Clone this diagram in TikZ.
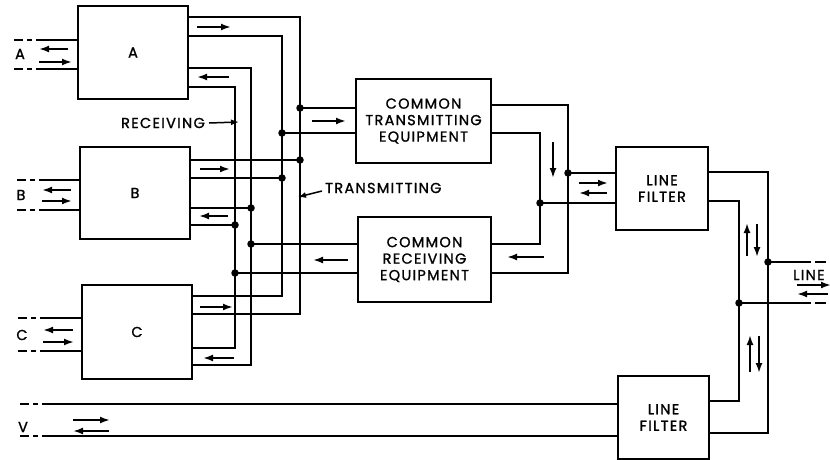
\documentclass[tikz,border=0pt]{standalone}
\usepackage{fontspec}
\setmainfont{Poppins}[LetterSpace=9,FakeBold=1.2]
\usetikzlibrary{arrows.meta,calc}
\begin{document}
\begin{tikzpicture}[x=1pt,y=-1pt,
  box/.style={draw,line width=1.8pt,rectangle,inner sep=0pt,align=center,font=\fontsize{14.5}{16.5}\selectfont},
  wire/.style={line width=2.5pt},
  dashpart/.style={line width=2.5pt,dash pattern=on 9pt off 4pt on 5pt off 4pt},
  rdash/.style={line width=2.5pt,dash pattern=on 11pt off 4pt},
  sig/.style={line width=2.1pt,-{Latex[length=10pt,width=7pt]}},
  jn/.style={circle,fill,inner sep=0pt,minimum size=7.5pt},
  lbl/.style={font=\fontsize{14.5}{15}\selectfont,inner sep=0pt}
]
\useasboundingbox (0,0) rectangle (830,460);

% boxes
\node[box,minimum width=110pt,minimum height=93pt] (A) at (133,52.5) {A};
\node[box,minimum width=110pt,minimum height=92pt] (B) at (135,193) {B};
\node[box,minimum width=110pt,minimum height=94pt] (C) at (137,332) {C};
\node[box,minimum width=135pt,minimum height=84pt] (CTE) at (423.5,121) {COMMON\\TRANSMITTING\\EQUIPMENT};
\node[box,minimum width=133pt,minimum height=85pt] (CRE) at (424.5,259.5) {COMMON\\RECEIVING\\EQUIPMENT};
\node[box,minimum width=92pt,minimum height=83pt] (LF1) at (662,188.5) {LINE\\FILTER};
\node[box,minimum width=91pt,minimum height=83pt] (LF2) at (663.5,417.5) {LINE\\FILTER};

% bus coordinates
\coordinate (tA1) at (300,17);   \coordinate (tC2) at (300,314);
\coordinate (tA2) at (282,36);   \coordinate (tC1) at (282,296);
\coordinate (rA1) at (251,68);   \coordinate (rC2) at (251,365);
\coordinate (rA2) at (235,87);   \coordinate (rC1) at (235,348);
\coordinate (tCT1) at (300,108); \coordinate (tCT2) at (282,133);
\coordinate (tB1) at (300,160);  \coordinate (tB2) at (282,178);
\coordinate (rB1) at (251,208);  \coordinate (rB2) at (235,225);
\coordinate (rCR1) at (251,244); \coordinate (rCR2) at (235,273);

% transmitting buses
\draw[wire] (A.east|-tA1) -- (tA1) -- (tC2) -- (C.east|-tC2);
\draw[wire] (A.east|-tA2) -- (tA2) -- (tC1) -- (C.east|-tC1);
% receiving buses
\draw[wire] (A.east|-rA1) -- (rA1) -- (rC2) -- (C.east|-rC2);
\draw[wire] (A.east|-rA2) -- (rA2) -- (rC1) -- (C.east|-rC1);
% B connections
\draw[wire] (B.east|-tB1) -- (tB1);
\draw[wire] (B.east|-tB2) -- (tB2);
\draw[wire] (B.east|-rB1) -- (rB1);
\draw[wire] (B.east|-rB2) -- (rB2);
% common equipment connections
\draw[wire] (tCT1) -- (CTE.west|-tCT1);
\draw[wire] (tCT2) -- (CTE.west|-tCT2);
\draw[wire] (rCR1) -- (CRE.west|-rCR1);
\draw[wire] (rCR2) -- (CRE.west|-rCR2);

% right side
\coordinate (c1t) at (568,105); \coordinate (c1b) at (568,273);
\coordinate (c2t) at (540,133); \coordinate (c2b) at (540,244);
\coordinate (cj1) at (568,173); \coordinate (cj2) at (540,203);
\draw[wire] (CTE.east|-c1t) -- (c1t) -- (c1b) -- (CRE.east|-c1b);
\draw[wire] (CTE.east|-c2t) -- (c2t) -- (c2b) -- (CRE.east|-c2b);
\draw[wire] (cj1) -- (LF1.west|-cj1);
\draw[wire] (cj2) -- (LF1.west|-cj2);

\coordinate (l1t) at (768,172); \coordinate (l1b) at (768,433);
\coordinate (l2t) at (739,201); \coordinate (l2b) at (739,401);
\coordinate (lj1) at (768,262); \coordinate (lj2) at (739,303);
\draw[wire] (LF1.east|-l1t) -- (l1t) -- (l1b) -- (LF2.east|-l1b);
\draw[wire] (LF1.east|-l2t) -- (l2t) -- (l2b) -- (LF2.east|-l2b);
\coordinate (le1) at (811,262); \coordinate (le1d) at (830,262);
\coordinate (le2) at (811,303); \coordinate (le2d) at (830,303);
\draw[wire] (lj1) -- (le1);
\draw[wire] (lj2) -- (le2);
\draw[rdash] ([xshift=4pt]le1) -- (le1d);
\draw[rdash] ([xshift=4pt]le2) -- (le2d);

% V lines
\coordinate (v1s) at (43,404); \coordinate (v1d) at (20,404);
\coordinate (v2s) at (47,436); \coordinate (v2d) at (20,436);
\draw[wire] (v1s) -- (LF2.west|-v1s);
\draw[wire] (v2s) -- (LF2.west|-v2s);
\draw[dashpart] (v1d) -- (v1s);
\draw[dashpart] (v2d) -- (v2s);

% left station lines
\foreach \n/\ya/\yb/\xd/\xs in {A/40/69/14/36, B/180/210/17/39, C/318/351/18/41}{
  \coordinate (\n d1) at (\xd,\ya); \coordinate (\n s1) at (\xs,\ya);
  \coordinate (\n d2) at (\xd,\yb); \coordinate (\n s2) at (\xs,\yb);
  \draw[dashpart] (\n d1) -- (\n s1);
  \draw[dashpart] (\n d2) -- (\n s2);
  \draw[wire] (\n s1) -- (\n.west|-\n s1);
  \draw[wire] (\n s2) -- (\n.west|-\n s2);
}

% junction dots
\foreach \p in {tCT1,tCT2,tB1,tB2,rB1,rB2,rCR1,rCR2,cj1,cj2,lj1,lj2}{
  \node[jn] (d\p) at (\p) {};
}

% labels
\node[lbl] (labA) at (20,54) {A};
\node[lbl] (labB) at (21,195) {B};
\node[lbl] (labC) at (22,335) {C};
\node[lbl] (labV) at (23,427) {V};
\node[lbl,anchor=west] (labL) at (793,275) {LINE};
\node[lbl] (labR) at (163,123) {RECEIVING};
\node[lbl,anchor=west] (labT) at (325,188) {TRANSMITTING};
\coordinate (rcvT) at (239,122);
\coordinate (trmT) at (298,197);
\draw[line width=1.5pt,-{Latex[length=8pt,width=6pt]}] (labR.east)+(4,0) -- (rcvT);
\draw[line width=1.5pt,-{Latex[length=8pt,width=6pt]}] ($(labT.west)+(-3,3)$) -- (trmT);

% signal arrows
\draw[sig] (68,49) -- (39,49);
\draw[sig] (39,62) -- (72,62);
\draw[sig] (71,190) -- (42,190);
\draw[sig] (42,201) -- (72,201);
\draw[sig] (73,330) -- (43,330);
\draw[sig] (43,342) -- (74,342);
\draw[sig] (73,420) -- (110,420);
\draw[sig] (109,431) -- (73,431);

\draw[sig] (197,27) -- (231,27);
\draw[sig] (229,77) -- (197,77);
\draw[sig] (200,169) -- (230,169);
\draw[sig] (228,216) -- (199,216);
\draw[sig] (200,307) -- (233,307);
\draw[sig] (234,358) -- (203,358);

\draw[sig] (312,121) -- (346,121);
\draw[sig] (348,260) -- (313,260);
\draw[sig] (544,257) -- (507,257);
\draw[sig] (553,142) -- (553,178);
\draw[sig] (579,183) -- (608,183);
\draw[sig] (607,193) -- (579,193);
\draw[sig] (747,256) -- (747,223);
\draw[sig] (757,224) -- (757,257);
\draw[sig] (750,372) -- (750,335);
\draw[sig] (759,336) -- (759,373);
\draw[sig] (797,285) -- (831,285);
\draw[sig] (828,294) -- (797,294);
\end{tikzpicture}
\end{document}
